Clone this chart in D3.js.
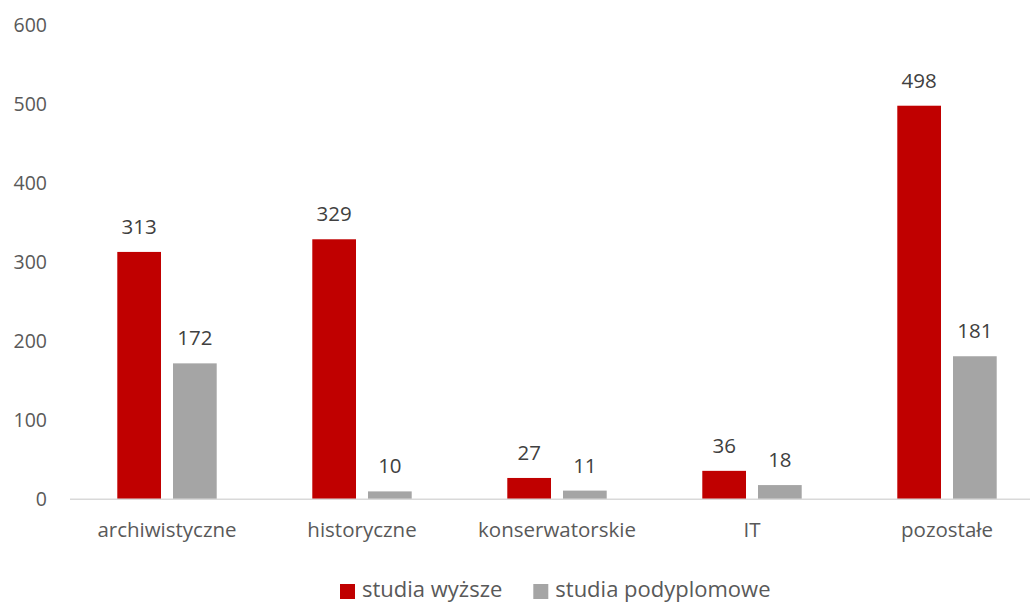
<!DOCTYPE html>
<html>
<head>
<meta charset="utf-8">
<script src="https://cdn.jsdelivr.net/npm/d3@7"></script>
<style>
  body { margin: 0; background: #fff; }
  text { font-family: "Open Sans", sans-serif; }
</style>
</head>
<body>
<div id="canvas"></div>
<script>
const categories = ["archiwistyczne", "historyczne", "konserwatorskie", "IT", "pozostałe"];
const seriesNames = ["studia wyższe", "studia podyplomowe"];
const wyzsze = [313, 329, 27, 36, 498];
const podyplomowe = [172, 10, 11, 18, 181];
const yTicks = [0, 100, 200, 300, 400, 500, 600];
const colors = ["#C00000", "#A5A5A5"];

const width = 1030;
const height = 603;

const svg = d3.select("#canvas").append("svg")
  .attr("width", width)
  .attr("height", height);

const xScale = d3.scaleBand().domain(categories).range([69.5, 1044.5]);
const xSub = d3.scaleBand().domain(seriesNames)
  .range([0, xScale.bandwidth()])
  .paddingInner(0.2154)
  .paddingOuter(0.858);
const yScale = d3.scaleLinear().domain([0, 600]).range([499.3, 25.1]);

// y axis labels only
const yAxis = svg.append("g")
  .attr("transform", "translate(70,0)")
  .call(d3.axisLeft(yScale).tickValues(yTicks).tickSize(0).tickPadding(23));
yAxis.select(".domain").remove();
yAxis.selectAll("text")
  .attr("font-family", "Open Sans, sans-serif")
  .attr("font-size", 19.5)
  .attr("fill", "#595959");

// category labels
const xAxis = svg.append("g")
  .attr("transform", "translate(0,499.3)")
  .call(d3.axisBottom(xScale).tickSize(0).tickPadding(23));
xAxis.select(".domain").remove();
xAxis.selectAll("text")
  .attr("font-family", "Open Sans, sans-serif")
  .attr("font-size", 20.5)
  .attr("fill", "#595959");

const rows = categories.map((c, i) => ({ name: c, values: [wyzsze[i], podyplomowe[i]] }));

const groups = svg.selectAll(".grp")
  .data(rows)
  .enter()
  .append("g")
  .attr("class", "grp")
  .attr("transform", (d) => `translate(${xScale(d.name)},0)`);

const bars = groups.selectAll("rect")
  .data((d) => d.values.map((v, j) => ({ key: seriesNames[j], value: v, j })))
  .enter();

bars.append("rect")
  .attr("x", (d) => xSub(d.key))
  .attr("y", (d) => yScale(d.value))
  .attr("width", xSub.bandwidth())
  .attr("height", (d) => yScale(0) - yScale(d.value))
  .attr("fill", (d) => colors[d.j]);

bars.append("text")
  .attr("x", (d) => xSub(d.key) + xSub.bandwidth() / 2)
  .attr("y", (d) => yScale(d.value) - 18)
  .attr("text-anchor", "middle")
  .attr("font-size", 20.5)
  .attr("fill", "#404040")
  .text((d) => d.value);

// baseline
svg.append("line")
  .attr("x1", 70).attr("x2", width)
  .attr("y1", yScale(0)).attr("y2", yScale(0))
  .attr("stroke", "#D9D9D9")
  .attr("stroke-width", 1.5);

// legend
const legendX = [340, 533.3];
const legend = svg.selectAll(".leg")
  .data(seriesNames)
  .enter()
  .append("g")
  .attr("class", "leg")
  .attr("transform", (d, i) => `translate(${legendX[i]},584)`);
legend.append("rect")
  .attr("width", 15).attr("height", 15)
  .attr("fill", (d, i) => colors[i]);
legend.append("text")
  .attr("x", 22)
  .attr("y", 12.5)
  .attr("font-size", 22)
  .attr("fill", "#595959")
  .text((d) => d);
</script>
</body>
</html>
